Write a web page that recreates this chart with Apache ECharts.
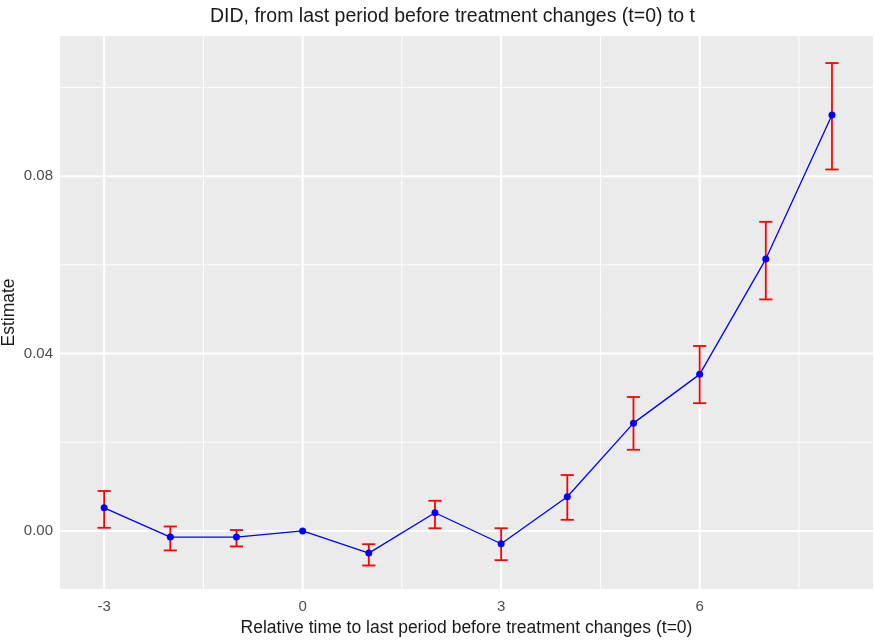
<!DOCTYPE html>
<html>
<head>
<meta charset="utf-8">
<script src="https://cdn.jsdelivr.net/npm/echarts@6/dist/echarts.min.js"></script>
<style>
html,body{margin:0;padding:0;background:#fff;}
#chart{width:875px;height:642px;}
</style>
</head>
<body>
<div id="chart"></div>
<script>
// ---- data ----
var periods  = [-3, -2, -1, 0, 1, 2, 3, 4, 5, 6, 7, 8];
var estimate = [0.0052, -0.0014, -0.0014, 0.0000, -0.0050, 0.0041, -0.0029, 0.0077, 0.0243, 0.0353, 0.0613, 0.0938];
var ciLow    = [0.0007, -0.0044, -0.0035, null, -0.0078, 0.0006, -0.0066, 0.0025, 0.0183, 0.0288, 0.0522, 0.0815];
var ciHigh   = [0.0090, 0.0010, 0.0002, null, -0.0030, 0.0068, 0.0006, 0.0126, 0.0302, 0.0417, 0.0697, 0.1055];
var xTicks = [-3, 0, 3, 6];
var xMinor = [-1.5, 1.5, 4.5, 7.5];
var yTicks = [0, 0.04, 0.08];
var yMinor = [0.02, 0.06, 0.10];
var titleText = 'DID, from last period before treatment changes (t=0) to t';
var xTitle = 'Relative time to last period before treatment changes (t=0)';
var yTitle = 'Estimate';

var X_MIN = -3.667, X_MAX = 8.62, Y_MIN = -0.0131, Y_MAX = 0.1116;

var chart = echarts.init(document.getElementById('chart'), null, {renderer: 'canvas'});
var FONT = 'Liberation Sans, Arial, sans-serif';

var lineData = periods.map(function (p, i) { return [p, estimate[i]]; });
var errData = [];
periods.forEach(function (p, i) {
  if (ciLow[i] !== null && ciHigh[i] !== null) errData.push([p, ciLow[i], ciHigh[i]]);
});

// grid lines data: [value, isMajor, isVertical]
var gridData = [];
xTicks.forEach(function (v) { gridData.push([v, 1, 1]); });
xMinor.forEach(function (v) { gridData.push([v, 0, 1]); });
yTicks.forEach(function (v) { gridData.push([v, 1, 0]); });
yMinor.forEach(function (v) { gridData.push([v, 0, 0]); });

var option = {
  animation: false,
  backgroundColor: '#ffffff',
  title: {
    text: titleText,
    left: 205,
    top: 2,
    textStyle: {fontFamily: FONT, fontSize: 19.5, fontWeight: 'normal', color: '#1a1a1a'}
  },
  grid: {
    left: 60, right: 2, top: 36, bottom: 53,
    outerBoundsMode: 'none', containLabel: false,
    show: true, backgroundColor: '#EBEBEB', borderWidth: 0
  },
  xAxis: {
    type: 'value', min: X_MIN, max: X_MAX,
    name: xTitle, nameLocation: 'middle', nameGap: 30, nameMoveOverlap: false,
    nameTextStyle: {fontFamily: FONT, fontSize: 17.5, color: '#1a1a1a'},
    axisLine: {show: false},
    splitLine: {show: false},
    axisTick: {show: true, length: 4, customValues: xTicks, lineStyle: {color: '#333333', width: 1}},
    axisLabel: {customValues: xTicks, fontFamily: FONT, fontSize: 15, color: '#4D4D4D', margin: 10,
      formatter: function (v) { return String(Math.round(v)); }}
  },
  yAxis: {
    type: 'value', min: Y_MIN, max: Y_MAX,
    name: yTitle, nameLocation: 'middle', nameGap: 42, nameRotate: 90, nameMoveOverlap: false,
    nameTextStyle: {fontFamily: FONT, fontSize: 17.5, color: '#1a1a1a'},
    axisLine: {show: false},
    splitLine: {show: false},
    axisTick: {show: true, length: 4, customValues: yTicks, lineStyle: {color: '#333333', width: 1}},
    axisLabel: {customValues: yTicks, fontFamily: FONT, fontSize: 15, color: '#4D4D4D', margin: 7,
      formatter: function (v) { return v.toFixed(2); }}
  },
  series: [
    {
      type: 'custom', z: 1, silent: true,
      data: gridData,
      renderItem: function (params, api) {
        var v = api.value(0), major = api.value(1), vert = api.value(2);
        var cs = params.coordSys;
        var shape;
        if (vert) {
          var px = api.coord([v, 0])[0];
          shape = {x1: px, y1: cs.y, x2: px, y2: cs.y + cs.height};
        } else {
          var py = api.coord([0, v])[1];
          shape = {x1: cs.x, y1: py, x2: cs.x + cs.width, y2: py};
        }
        return {type: 'line', shape: shape,
          style: {stroke: '#ffffff', lineWidth: major ? 2 : 1}};
      }
    },
    {
      type: 'custom', z: 3, silent: true,
      data: errData,
      renderItem: function (params, api) {
        var x = api.value(0);
        var lo = api.coord([x, api.value(1)]);
        var hi = api.coord([x, api.value(2)]);
        var left = api.coord([x - 0.1, 0])[0];
        var right = api.coord([x + 0.1, 0])[0];
        var st = {stroke: '#FF0000', lineWidth: 1.8};
        return {type: 'group', children: [
          {type: 'line', shape: {x1: lo[0], y1: lo[1], x2: hi[0], y2: hi[1]}, style: st},
          {type: 'line', shape: {x1: left, y1: lo[1], x2: right, y2: lo[1]}, style: st},
          {type: 'line', shape: {x1: left, y1: hi[1], x2: right, y2: hi[1]}, style: st}
        ]};
      }
    },
    {
      type: 'line', z: 5, silent: true,
      data: lineData,
      symbol: 'circle', symbolSize: 7,
      lineStyle: {color: '#0000FF', width: 1.3},
      itemStyle: {color: '#0000FF'}
    }
  ]
};
chart.setOption(option);
</script>
</body>
</html>
